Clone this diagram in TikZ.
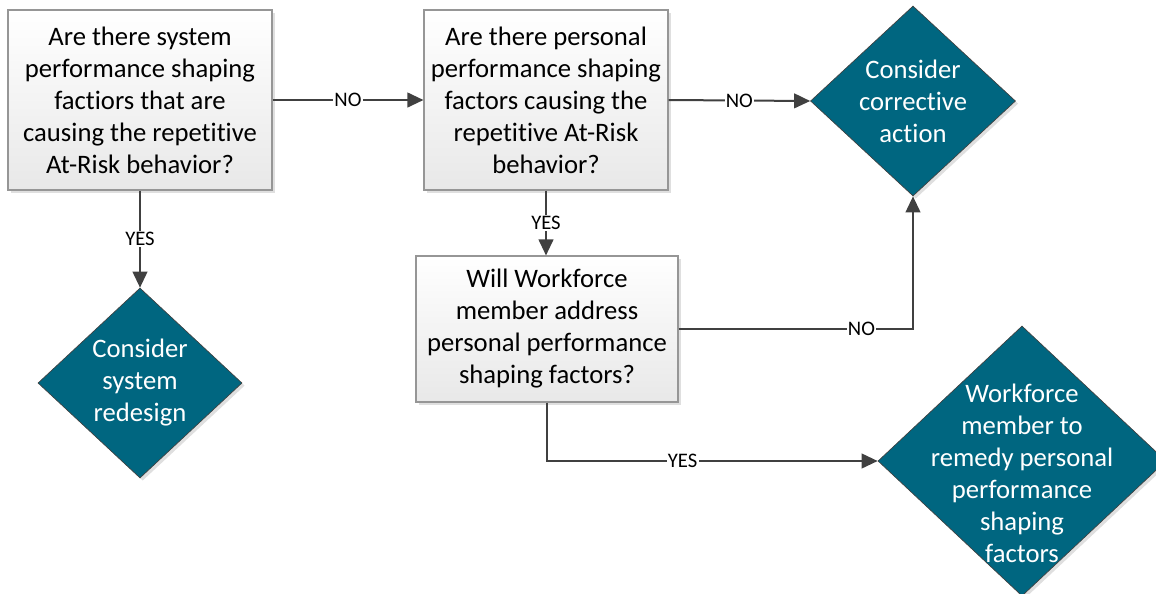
\documentclass[tikz,border=0pt]{standalone}
\usepackage{fontspec}
\setmainfont[RawFeature={-liga;-clig;-dlig;-calt}]{Carlito}
\usetikzlibrary{shapes.geometric,arrows.meta,shadows}
\definecolor{teal}{RGB}{0,102,128}
\definecolor{linec}{RGB}{64,64,64}
\definecolor{boxedge}{RGB}{150,150,150}
\newcommand{\nolig}{\kern0pt}
\tikzset{
  qbox/.style={rectangle, draw=boxedge, line width=0.8pt, top color=white, bottom color=black!9,
    align=center, font=\fontsize{20}{24}\selectfont, inner sep=0pt,
    drop shadow={shadow xshift=2pt, shadow yshift=-2pt, opacity=0.25, fill=black!50}},
  ddia/.style={diamond, draw=black!75, line width=0.5pt, fill=teal, inner sep=0pt, aspect=1,
    drop shadow={shadow xshift=2pt, shadow yshift=-2pt, opacity=0.25, fill=black!50}},
  dtext/.style={align=center, text=white, font=\fontsize{20}{24}\selectfont, inner sep=0pt},
  arr/.style={draw=linec, line width=1.5pt, -{Triangle[length=12pt,width=11pt]}},
  lbl/.style={fill=white, inner sep=1pt, font=\fontsize{15.5}{18}\selectfont, text=black}
}
\begin{document}
\begin{tikzpicture}[x=0.75pt,y=-0.75pt]
\useasboundingbox (0,0) rectangle (1156,593);
\node[qbox, minimum width=264*0.75pt, minimum height=180*0.75pt] (b1) at (140,100)
  {Are there system\\performance shaping\\fact\nolig iors that are\\causing the repet\nolig it\nolig ive\\At-Risk behavior?};
\node[qbox, minimum width=244*0.75pt, minimum height=180*0.75pt] (b2) at (546,100)
  {Are there personal\\performance shaping\\factors causing the\\repet\nolig it\nolig ive At-Risk\\behavior?};
\node[qbox, minimum width=262*0.75pt, minimum height=146*0.75pt] (b3) at (547,329)
  {Will Workforce\\member address\\personal performance\\shaping factors?};
\node[ddia, minimum width=205*0.75pt, minimum height=190*0.75pt] (d1) at (913,101) {};
\node[dtext] (t1) at (d1.center) {Consider\\correct\nolig ive\\act\nolig ion};
\node[ddia, minimum width=204*0.75pt, minimum height=190*0.75pt] (d2) at (140,383) {};
\node[dtext] (t2) at (d2.center) {Consider\\system\\redesign};
\node[ddia, minimum width=288*0.75pt, minimum height=270*0.75pt] (d3) at (1022,461) {};
\node[dtext] (t3) at (1022,473) {Workforce\\member to\\remedy personal\\performance\\shaping\\factors};
\draw[arr] (b1.east) -- node[lbl]{NO} (b2.west);
\draw[arr] (b2.east) -- node[lbl]{NO} (d1.west);
\draw[arr] (b1.south) -- node[lbl]{YES} (d2.north);
\draw[arr] (b2.south) -- node[lbl]{YES} (b2.south |- b3.north);
\draw[arr] (b3.east) -| node[lbl, pos=0.39]{NO} (d1.south);
\draw[arr] (b3.south) |- node[lbl, pos=0.705]{YES} (d3.west);
\end{tikzpicture}
\end{document}
